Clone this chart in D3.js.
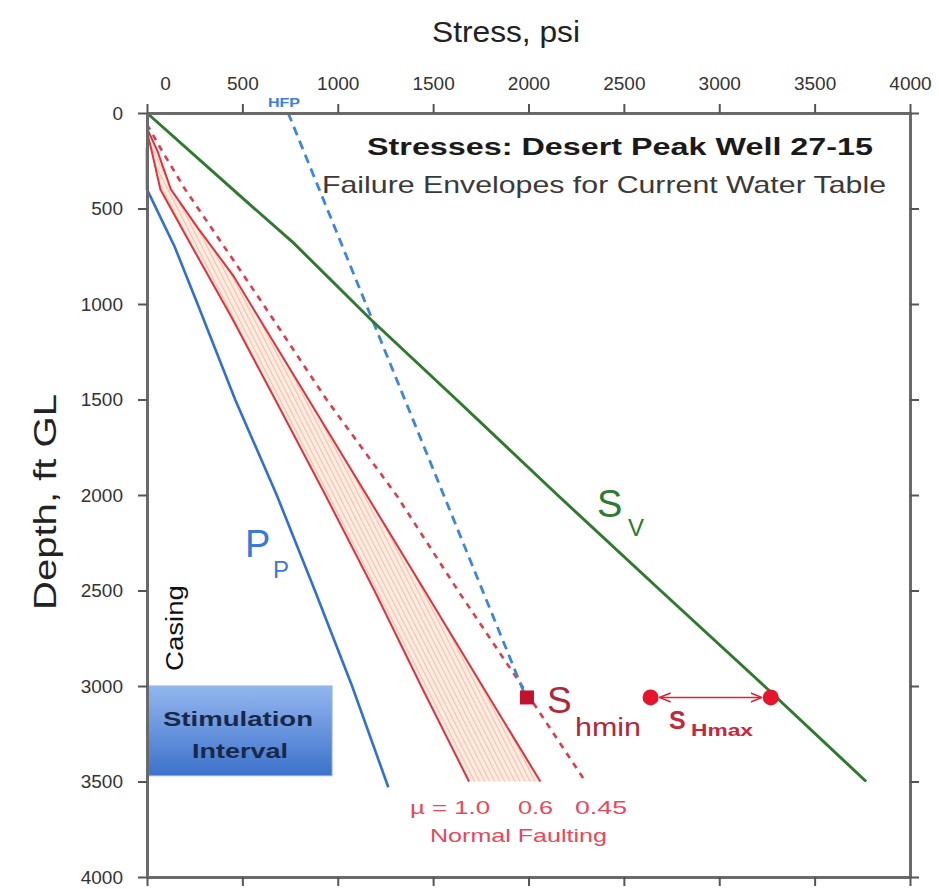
<!DOCTYPE html>
<html>
<head>
<meta charset="utf-8">
<script src="https://cdn.jsdelivr.net/npm/d3@7"></script>
<style>
  html, body { margin: 0; padding: 0; background: #ffffff; }
  svg { display: block; }
  text { font-family: "Liberation Sans", Arial, sans-serif; }
</style>
</head>
<body>
<svg id="chart" width="939" height="889"></svg>
<script>
// ---- Data (stress in psi, depth in ft below ground level) ----
const stressTicks = [0, 500, 1000, 1500, 2000, 2500, 3000, 3500, 4000];
const depthTicks  = [0, 500, 1000, 1500, 2000, 2500, 3000, 3500, 4000];

// Vertical stress Sv
const svDepth  = [0, 390, 680, 1080, 1500, 2000, 2500, 3000, 3500];
const svStress = [0, 438, 768, 1172, 1622, 2152, 2692, 3236, 3770];

// Pore pressure Pp
const ppDepth  = [180, 400, 700, 1000, 1500, 2000, 2500, 3000, 3530];
const ppStress = [0, 0, 145, 265, 462, 680, 880, 1075, 1265];

// Normal-faulting failure envelopes (Shmin lower bounds)
const mu10Depth  = [100, 200, 400, 600, 800, 1075, 1500, 2000, 2500, 3000, 3500];
const mu10Stress = [0, 25, 70, 180, 292, 446, 672, 935, 1192, 1437, 1688];

const mu06Depth  = [80, 200, 400, 600, 850, 1500, 2000, 2500, 3000, 3500];
const mu06Stress = [0, 55, 125, 265, 451, 847, 1151, 1455, 1758, 2062];

const mu045Depth  = [60, 200, 400, 800, 1000, 1500, 2000, 2500, 3000, 3500];
const mu045Stress = [0, 80, 200, 473, 608, 941, 1307, 1630, 1966, 2298];

// Hydraulic fracture pressure trend
const hfpDepth  = [0, 3030];
const hfpStress = [740, 1975];

// Measured Shmin and SHmax range at the stimulation depth
const shminPoint   = { stress: 1992, depth: 3060 };
const shmaxDepth   = 3060;
const shmaxStress  = [2640, 3270];

// Stimulation interval (depth range) and its drawn width in psi
const stimTop = 3000, stimBottom = 3470, stimWidthPsi = 970;

const zip = (ds, ss) => ds.map((d, i) => ({ depth: d, stress: ss[i] }));

// ---- Scales ----
const svg = d3.select("#chart");
const x = d3.scaleLinear().domain([0, 4000]).range([147, 910]);
const y = d3.scaleLinear().domain([0, 4000]).range([113, 877]);

const line = d3.line().x(d => x(d.stress)).y(d => y(d.depth));

// ---- Defs: hatch pattern, gradient, arrow heads ----
const defs = svg.append("defs");
const hatch = defs.append("pattern")
  .attr("id", "hatch")
  .attr("patternUnits", "userSpaceOnUse")
  .attr("width", 4.5).attr("height", 10)
  .attr("patternTransform", "rotate(-27)");
hatch.append("rect").attr("width", 4.5).attr("height", 10).attr("fill", "#fdede3");
hatch.append("line").attr("x1", 0.6).attr("y1", 0).attr("x2", 0.6).attr("y2", 10)
  .attr("stroke", "#f4ab8e").attr("stroke-width", 0.8);

const grad = defs.append("linearGradient").attr("id", "stimGrad")
  .attr("x1", 0).attr("y1", 0).attr("x2", 0).attr("y2", 1);
grad.append("stop").attr("offset", "0%").attr("stop-color", "#93b6ee");
grad.append("stop").attr("offset", "100%").attr("stop-color", "#3c72cb");

["arrowEnd", "arrowStart"].forEach((id, i) => {
  defs.append("marker").attr("id", id)
    .attr("viewBox", "0 0 10 10").attr("refX", i === 0 ? 9 : 1).attr("refY", 5)
    .attr("markerWidth", 7).attr("markerHeight", 7).attr("orient", "auto")
    .append("path")
    .attr("d", i === 0 ? "M0,1 L10,5 L0,9" : "M10,1 L0,5 L10,9")
    .attr("fill", "none").attr("stroke", "#d9243a").attr("stroke-width", 1.4);
});

// ---- Hatched band between mu = 1.0 and mu = 0.6 ----
const mu10 = zip(mu10Depth, mu10Stress);
const mu06 = zip(mu06Depth, mu06Stress);
const mu045 = zip(mu045Depth, mu045Stress);
const band = mu10.concat(mu06.slice().reverse());
svg.append("path")
  .attr("d", line(band) + "Z")
  .attr("fill", "url(#hatch)")
  .attr("stroke", "none");

// ---- Envelope curves ----
svg.append("path").attr("d", line(mu10))
  .attr("fill", "none").attr("stroke", "#e3303c").attr("stroke-width", 2);
svg.append("path").attr("d", line(mu06))
  .attr("fill", "none").attr("stroke", "#e3303c").attr("stroke-width", 2);
svg.append("path").attr("d", line(mu045))
  .attr("fill", "none").attr("stroke", "#e03a4c").attr("stroke-width", 2.6)
  .attr("stroke-dasharray", "6,6");

// ---- Pore pressure ----
svg.append("path").attr("d", line(zip(ppDepth, ppStress)))
  .attr("fill", "none").attr("stroke", "#2f6fd6").attr("stroke-width", 2.6);

// ---- HFP trend ----
svg.append("path").attr("d", line(zip(hfpDepth, hfpStress)))
  .attr("fill", "none").attr("stroke", "#3c85e2").attr("stroke-width", 2.8)
  .attr("stroke-dasharray", "9,6");

// ---- Vertical stress ----
svg.append("path").attr("d", line(zip(svDepth, svStress)))
  .attr("fill", "none").attr("stroke", "#2e7a2e").attr("stroke-width", 3);

// ---- Stimulation interval box ----
svg.append("rect")
  .attr("x", x(0) + 1).attr("y", y(stimTop))
  .attr("width", x(stimWidthPsi) - x(0) - 1)
  .attr("height", y(stimBottom) - y(stimTop))
  .attr("fill", "url(#stimGrad)")
  .attr("stroke", "#8fb0e6").attr("stroke-width", 1);
svg.append("text").text("Stimulation")
  .attr("x", 238).attr("y", 726).attr("text-anchor", "middle")
  .attr("font-family", "'Open Sans', 'Liberation Sans', sans-serif")
  .attr("font-weight", "bold").attr("font-size", 21).attr("fill", "#18284a")
  .attr("textLength", 150).attr("lengthAdjust", "spacingAndGlyphs");
svg.append("text").text("Interval")
  .attr("x", 240).attr("y", 758).attr("text-anchor", "middle")
  .attr("font-family", "'Open Sans', 'Liberation Sans', sans-serif")
  .attr("font-weight", "bold").attr("font-size", 21).attr("fill", "#18284a")
  .attr("textLength", 96).attr("lengthAdjust", "spacingAndGlyphs");

svg.append("text").text("Casing")
  .attr("transform", "translate(183,628) rotate(-90)")
  .attr("text-anchor", "middle").attr("font-size", 23).attr("fill", "#111")
  .attr("textLength", 86).attr("lengthAdjust", "spacingAndGlyphs");

// ---- Shmin marker ----
svg.append("rect")
  .attr("x", x(shminPoint.stress) - 7).attr("y", y(shminPoint.depth) - 7)
  .attr("width", 14).attr("height", 14)
  .attr("fill", "#c2122e");

// ---- SHmax range ----
svg.append("line")
  .attr("x1", x(shmaxStress[0]) + 10).attr("x2", x(shmaxStress[1]) - 10)
  .attr("y1", y(shmaxDepth)).attr("y2", y(shmaxDepth))
  .attr("stroke", "#d9243a").attr("stroke-width", 1.6)
  .attr("marker-start", "url(#arrowStart)").attr("marker-end", "url(#arrowEnd)");
svg.selectAll("circle.shmax").data(shmaxStress).enter().append("circle")
  .attr("class", "shmax")
  .attr("cx", d => x(d)).attr("cy", y(shmaxDepth)).attr("r", 8)
  .attr("fill", "#e8132c");

// ---- Curve labels ----
const lbl = (t, px, py, size, color, opts = {}) => {
  const el = svg.append("text").text(t)
    .attr("x", px).attr("y", py).attr("font-size", size).attr("fill", color);
  if (opts.weight) el.attr("font-weight", opts.weight);
  if (opts.anchor) el.attr("text-anchor", opts.anchor);
  if (opts.len) el.attr("textLength", opts.len).attr("lengthAdjust", "spacingAndGlyphs");
  return el;
};

lbl("P", 245, 557, 38, "#3b78d8");
lbl("P", 273, 578, 24, "#3b78d8");

lbl("S", 597, 517, 38, "#2e7a2e");
lbl("V", 628, 536, 24, "#2e7a2e");

lbl("S", 547, 713, 37, "#b32639");
lbl("hmin", 575, 736, 25, "#b32639", { len: 66 });

lbl("S", 669, 729, 25, "#c4283a", { weight: "bold" });
lbl("Hmax", 691, 736, 17, "#c4283a", { weight: "bold", len: 62 });

lbl("µ = 1.0", 410, 814, 19, "#e6485c", { len: 80 });
lbl("0.6", 518, 814, 19, "#e6485c", { len: 35 });
lbl("0.45", 575, 814, 19, "#e6485c", { len: 52 });
lbl("Normal Faulting", 430, 842, 19, "#e6485c", { len: 177 });

lbl("HFP", 284, 107, 13, "#3c7fe0", { weight: "bold", anchor: "middle", len: 32 });

// ---- Titles ----
lbl("Stresses: Desert Peak Well 27-15", 367, 155, 23, "#1a1a1a", { weight: "bold", len: 506 });
lbl("Failure Envelopes for Current Water Table", 322, 193, 24, "#3a3a3a", { len: 564 });

lbl("Stress, psi", 506, 42, 30, "#222", { anchor: "middle", len: 148 });
svg.append("text").text("Depth, ft GL")
  .attr("transform", "translate(56,502) rotate(-90)")
  .attr("text-anchor", "middle").attr("font-size", 32).attr("fill", "#222")
  .attr("textLength", 216).attr("lengthAdjust", "spacingAndGlyphs");

// ---- Axes (frame with ticks on all four sides) ----
const plain = d3.format("d");
function styleAxis(g) {
  g.select(".domain").attr("stroke", "#6a6a6a").attr("stroke-width", 3);
  g.selectAll(".tick line").attr("stroke", "#555").attr("stroke-width", 2);
  g.selectAll(".tick text")
    .attr("fill", "#333").attr("font-size", 19)
    .attr("font-family", "'Liberation Sans', Arial, sans-serif");
}

const topAxis = svg.append("g").attr("transform", `translate(0,${y(0)})`)
  .call(d3.axisTop(x).tickValues(stressTicks).tickFormat(plain)
    .tickSize(9).tickSizeOuter(0).tickPadding(14))
  .call(styleAxis);
// the zero label sits clear of the depth axis
topAxis.selectAll(".tick text").filter(d => d === 0).attr("dx", 18);

svg.append("g").attr("transform", `translate(0,${y(4000)})`)
  .call(d3.axisBottom(x).tickValues(stressTicks).tickSize(9).tickSizeOuter(0).tickFormat(""))
  .call(styleAxis);

svg.append("g").attr("transform", `translate(${x(0)},0)`)
  .call(d3.axisLeft(y).tickValues(depthTicks).tickFormat(plain)
    .tickSize(9).tickSizeOuter(0).tickPadding(15))
  .call(styleAxis);

svg.append("g").attr("transform", `translate(${x(4000)},0)`)
  .call(d3.axisRight(y).tickValues(depthTicks).tickSize(9).tickSizeOuter(0).tickFormat(""))
  .call(styleAxis);
</script>
</body>
</html>
